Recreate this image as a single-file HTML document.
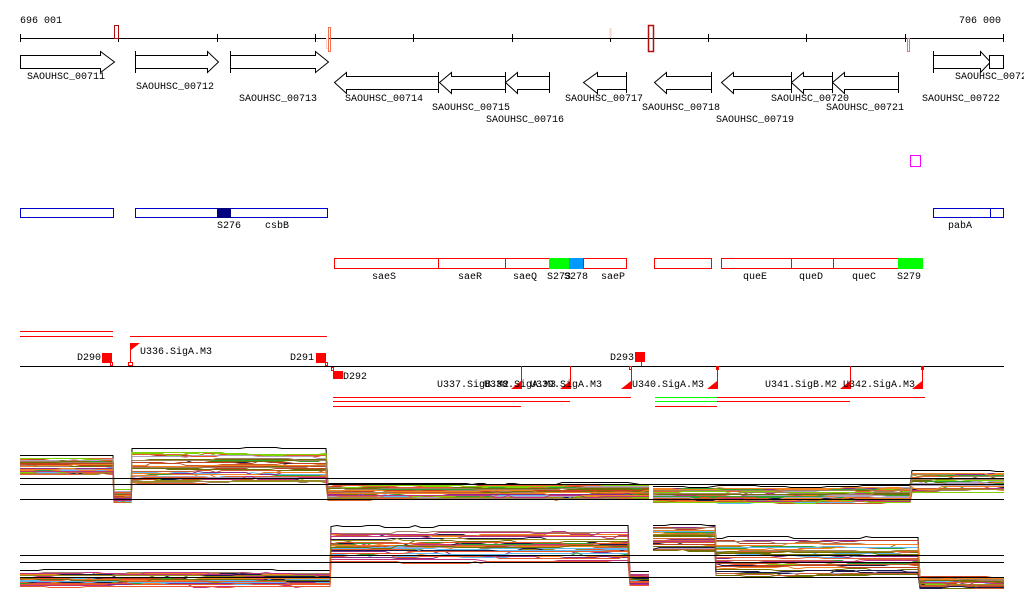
<!DOCTYPE html>
<html><head><meta charset="utf-8"><style>
html,body{margin:0;padding:0;background:#fff}
svg{display:block}
text{font-family:"Liberation Mono",monospace;font-size:10px;fill:#000}
</style></head><body>
<svg id="s" width="1024" height="611" xmlns="http://www.w3.org/2000/svg">
<rect width="1024" height="611" fill="#fff"/>
<text x="20" y="23">696 001</text>
<text x="1001" y="23" text-anchor="end">706 000</text>
<line x1="20" y1="38.5" x2="1004" y2="38.5" stroke="#000"/>
<g stroke="#000">
<line x1="20.5" y1="34" x2="20.5" y2="42"/><line x1="118.5" y1="34" x2="118.5" y2="42"/><line x1="217.5" y1="34" x2="217.5" y2="42"/><line x1="315.5" y1="34" x2="315.5" y2="42"/><line x1="413.5" y1="34" x2="413.5" y2="42"/><line x1="512.5" y1="34" x2="512.5" y2="42"/><line x1="610.5" y1="34" x2="610.5" y2="42"/><line x1="708.5" y1="34" x2="708.5" y2="42"/><line x1="806.5" y1="34" x2="806.5" y2="42"/><line x1="905.5" y1="34" x2="905.5" y2="42"/><line x1="1003.5" y1="34" x2="1003.5" y2="42"/>
</g>
<rect x="114.5" y="25.5" width="4" height="13" fill="none" stroke="#b01010"/>
<rect x="326.5" y="38.5" width="2" height="10" fill="none" stroke="#fcd5c8"/>
<rect x="328.5" y="27.5" width="2" height="24" fill="none" stroke="#f07050"/>
<rect x="609.5" y="28" width="2" height="10" fill="#fcd5c8"/>
<rect x="648.5" y="25.5" width="5" height="26" fill="none" stroke="#b01010" stroke-width="1.5"/>
<rect x="907.5" y="38.5" width="2" height="13" fill="none" stroke="#f07060"/>
<g fill="#fff" stroke="#000">
<polygon points="20.5,55.5 100.5,55.5 100.5,51.5 114.5,62 100.5,72.5 100.5,68.5 20.5,68.5"/>
<polygon points="135.5,55.5 207.5,55.5 207.5,51.5 218.5,62 207.5,72.5 207.5,68.5 135.5,68.5"/>
<line x1="135.5" y1="51" x2="135.5" y2="73"/>
<polygon points="230.5,55.5 315.5,55.5 315.5,51.5 328.5,62 315.5,72.5 315.5,68.5 230.5,68.5"/>
<line x1="230.5" y1="51" x2="230.5" y2="73"/>
<polygon points="933.5,55.5 980.5,55.5 980.5,51.5 990.5,62 980.5,72.5 980.5,68.5 933.5,68.5"/>
<line x1="933.5" y1="51" x2="933.5" y2="73"/>
<rect x="989.5" y="55.5" width="14" height="13"/>
<polygon points="438.5,76.5 346.5,76.5 346.5,72.5 334.5,82.5 346.5,93.5 346.5,89.5 438.5,89.5"/>
<line x1="438.5" y1="72" x2="438.5" y2="93"/>
<polygon points="505.5,76.5 451.5,76.5 451.5,72.5 439.5,82.5 451.5,93.5 451.5,89.5 505.5,89.5"/>
<line x1="505.5" y1="72" x2="505.5" y2="93"/>
<polygon points="549.5,76.5 517.5,76.5 517.5,72.5 505.5,82.5 517.5,93.5 517.5,89.5 549.5,89.5"/>
<line x1="549.5" y1="72" x2="549.5" y2="93"/>
<polygon points="626.5,76.5 597.5,76.5 597.5,72.5 583.5,82.5 597.5,93.5 597.5,89.5 626.5,89.5"/>
<line x1="626.5" y1="72" x2="626.5" y2="93"/>
<polygon points="711.5,76.5 666.5,76.5 666.5,72.5 654.5,82.5 666.5,93.5 666.5,89.5 711.5,89.5"/>
<line x1="711.5" y1="72" x2="711.5" y2="93"/>
<polygon points="791.5,76.5 733.5,76.5 733.5,72.5 721.5,82.5 733.5,93.5 733.5,89.5 791.5,89.5"/>
<polygon points="832.5,76.5 803.5,76.5 803.5,72.5 791.5,82.5 803.5,93.5 803.5,89.5 832.5,89.5"/>
<line x1="791.5" y1="72" x2="791.5" y2="93"/>
<polygon points="898.5,76.5 844.5,76.5 844.5,72.5 832.5,82.5 844.5,93.5 844.5,89.5 898.5,89.5"/>
<line x1="832.5" y1="72" x2="832.5" y2="93"/>
<line x1="898.5" y1="72" x2="898.5" y2="93"/>
</g>
<text x="27" y="79">SAOUHSC_00711</text>
<text x="136" y="89">SAOUHSC_00712</text>
<text x="239" y="101">SAOUHSC_00713</text>
<text x="345" y="101">SAOUHSC_00714</text>
<text x="432" y="110">SAOUHSC_00715</text>
<text x="486" y="122">SAOUHSC_00716</text>
<text x="565" y="101">SAOUHSC_00717</text>
<text x="642" y="110">SAOUHSC_00718</text>
<text x="716" y="122">SAOUHSC_00719</text>
<text x="771" y="101">SAOUHSC_00720</text>
<text x="826" y="110">SAOUHSC_00721</text>
<text x="922" y="101">SAOUHSC_00722</text>
<text x="955" y="79">SAOUHSC_00723</text>
<rect x="910.5" y="155.5" width="10" height="11" fill="none" stroke="#f0f"/>
<g fill="none" stroke="#00c">
<rect x="20.5" y="208.5" width="93" height="9"/>
<rect x="135.5" y="208.5" width="192" height="9"/>
<rect x="933.5" y="208.5" width="57" height="9"/>
<rect x="990.5" y="208.5" width="13" height="9"/>
</g>
<rect x="217" y="208" width="14" height="10" fill="#000080"/>
<text x="217" y="228">S276</text><text x="265" y="228">csbB</text><text x="948" y="228">pabA</text>
<g fill="none" stroke="#f00">
<rect x="334.5" y="258.5" width="104" height="10"/>
<rect x="438.5" y="258.5" width="67" height="10"/>
<rect x="505.5" y="258.5" width="44" height="10"/>
<rect x="583.5" y="258.5" width="43" height="10"/>
<rect x="654.5" y="258.5" width="57" height="10"/>
<rect x="721.5" y="258.5" width="70" height="10"/>
<rect x="791.5" y="258.5" width="42" height="10"/>
<rect x="833.5" y="258.5" width="65" height="10"/>
</g>
<rect x="549" y="258" width="20" height="11" fill="#0f0"/>
<rect x="569" y="258" width="14" height="11" fill="#09f"/>
<rect x="898" y="258" width="25" height="11" fill="#0f0"/>
<text x="372" y="279">saeS</text><text x="458" y="279">saeR</text><text x="513" y="279">saeQ</text><text x="547" y="279">S273</text><text x="564" y="279">S278</text><text x="601" y="279">saeP</text>
<text x="743" y="279">queE</text><text x="799" y="279">queD</text><text x="852" y="279">queC</text><text x="897" y="279">S279</text>
<g stroke="#f00">
<line x1="20" y1="331.5" x2="113" y2="331.5"/><line x1="20" y1="336.5" x2="113" y2="336.5"/>
<line x1="130" y1="336.5" x2="327" y2="336.5"/>
<line x1="333" y1="397.5" x2="631" y2="397.5"/><line x1="333" y1="401.5" x2="570" y2="401.5"/><line x1="333" y1="406.5" x2="521" y2="406.5"/>
<line x1="655" y1="406.5" x2="717" y2="406.5"/>
<line x1="717" y1="397.5" x2="925" y2="397.5"/><line x1="717" y1="401.5" x2="850" y2="401.5"/>
</g>
<g stroke="#0f0"><line x1="655" y1="397.5" x2="717" y2="397.5"/><line x1="655" y1="401.5" x2="717" y2="401.5"/></g>
<line x1="20" y1="366.5" x2="1004" y2="366.5" stroke="#000"/>
<g fill="#f00">
<rect x="102" y="353" width="10" height="10"/><rect x="316" y="353" width="10" height="10"/>
<rect x="333" y="371" width="10" height="8"/><rect x="635" y="352" width="10" height="10"/>
<polygon points="131,343 140,343 131,350"/>
</g>
<g fill="none" stroke="#f00">
<rect x="110.5" y="362.5" width="2" height="3"/><rect x="128.5" y="362.5" width="4" height="3"/>
<rect x="325.5" y="362.5" width="2" height="3"/><rect x="331.5" y="367.5" width="2" height="3"/>
<rect x="629.5" y="366.5" width="2" height="3"/>
<line x1="130.5" y1="343" x2="130.5" y2="363"/><line x1="641.5" y1="362" x2="641.5" y2="366"/>
</g>
<g stroke="#f00">
<line x1="521.5" y1="366" x2="521.5" y2="389"/><line x1="570.5" y1="366" x2="570.5" y2="389"/><line x1="631.5" y1="366" x2="631.5" y2="389"/><line x1="717.5" y1="366" x2="717.5" y2="389"/><line x1="850.5" y1="366" x2="850.5" y2="389"/><line x1="922.5" y1="366" x2="922.5" y2="389"/>
</g>
<g fill="#f00">
<polygon points="521,381 521,389 511,389"/><polygon points="570,381 570,389 560,389"/><polygon points="631,381 631,389 621,389"/><polygon points="717,381 717,389 707,389"/><polygon points="850,381 850,389 840,389"/><polygon points="922,381 922,389 912,389"/>
<rect x="716" y="366" width="3" height="4"/><rect x="921" y="366" width="3" height="4"/>
</g>
<text x="77" y="360">D290</text><text x="140" y="354">U336.SigA.M3</text><text x="290" y="360">D291</text><text x="343" y="379">D292</text><text x="610" y="360">D293</text>
<text x="437" y="387">U337.SigB.M2</text><text x="484" y="387">U338.SigA.M3</text><text x="530" y="387">U339.SigA.M3</text><text x="632" y="387">U340.SigA.M3</text><text x="765" y="387">U341.SigB.M2</text><text x="843" y="387">U342.SigA.M3</text>
<g id="plots"></g>
<g stroke="#000">
<line x1="20" y1="478.5" x2="1004" y2="478.5"/><line x1="20" y1="484.5" x2="1004" y2="484.5"/><line x1="20" y1="499.5" x2="1004" y2="499.5"/>
<line x1="20" y1="555.5" x2="1004" y2="555.5"/><line x1="20" y1="562.5" x2="1004" y2="562.5"/><line x1="20" y1="577.5" x2="1004" y2="577.5"/>
</g>
</svg>
<script>
(function(){
var seed=7;function r(){seed=(seed*16807)%2147483647;return seed/2147483647;}
var pal=["#e8562a","#9a8a1a","#7fd000","#8a2a8a","#c03080","#1a1a4a","#60b8f0","#a08060","#d06040","#30a030","#b0a0c0","#c04020","#707000","#f08020","#e06030","#c85a30"];
var g=document.getElementById("plots"),ns="http://www.w3.org/2000/svg";
function panel(segs,n){
 for(var i=0;i<n;i++){
  var off=(r()-0.5)*(0.6+0.4*r()), pts=[], d=0;
  var black=(i==0);
  if(black) off=-0.55;
  for(var k=0;k<segs.length;k++){var s=segs[k];
   for(var x=s[0];x<=s[1];x+=6){
    if(r()<0.15) d=(r()-0.5)*3;
    var y=s[2]+off*s[3]+d; pts.push(x+","+y.toFixed(0)+".5");}
   pts.push(s[1]+","+(s[2]+off*s[3]+d).toFixed(0)+".5");
  }
  var p=document.createElementNS(ns,"polyline");
  p.setAttribute("points",pts.join(" "));p.setAttribute("fill","none");
  p.setAttribute("stroke",black?"#000":pal[Math.floor(r()*pal.length)]);p.setAttribute("stroke-width","1");
  g.appendChild(p);
 }
}
panel([[20,113,467,22],[114,131,497,16],[132,326,470,40],[328,649,493,18]],40);
panel([[653,910,496,18],[912,1004,484,24]],40);
panel([[20,330,580,18],[331,628,548,40],[630,649,580,14]],40);
panel([[653,715,540,28],[716,918,560,42],[920,1004,583,12]],40);
})();
</script>
</body></html>
